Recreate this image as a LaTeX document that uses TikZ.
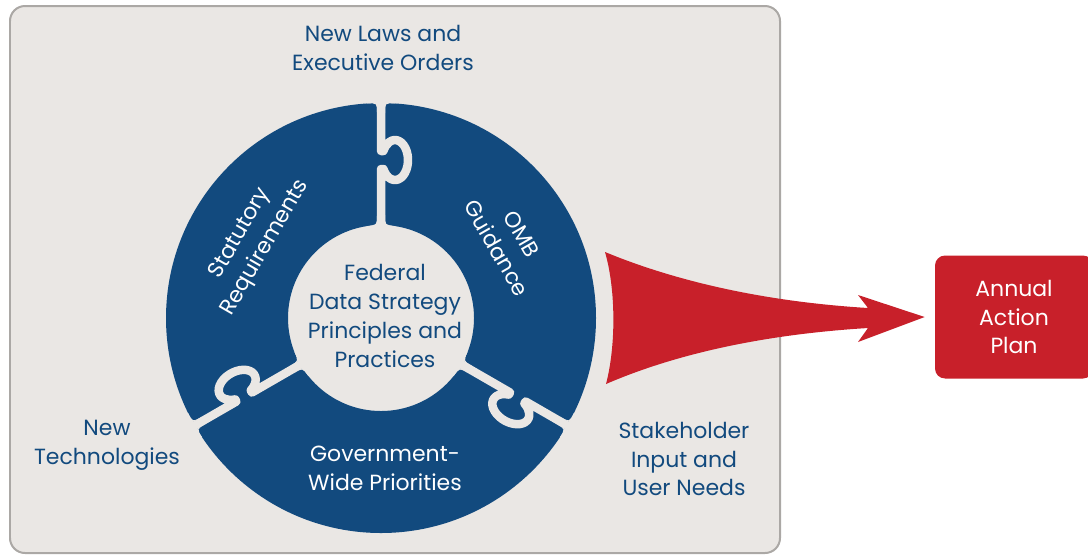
\documentclass[tikz,border=0pt]{standalone}
\usepackage{fontspec}
\setmainfont{Poppins}
\usetikzlibrary{positioning}
\definecolor{fdsblue}{RGB}{18,74,126}
\definecolor{fdsred}{RGB}{200,32,42}
\definecolor{panelgray}{RGB}{234,231,228}
\definecolor{panelline}{RGB}{171,168,165}

\begin{document}
\begin{tikzpicture}[x=0.02cm, y=-0.02cm]
        \tikzstyle{every node}=[align=center, inner sep=0pt, font=\fontsize{12.5}{16.4}\selectfont]
        \tikzstyle{outlbl}=[text=fdsblue]
        \tikzstyle{inlbl}=[text=white]
        \useasboundingbox (0,0) rectangle (1088,556);

        % grey panel
        \draw[panelline, fill=panelgray, line width=0.04cm, rounded corners=0.3cm]
                (10,6) rectangle (780,553);

        % puzzle ring, the gaps are cut with the panel colour
        \begin{scope}[shift={(381,318)}, y=0.02cm]
                \fill[fdsblue, even odd rule] (0,0) circle (215) (0,0) circle (93);
                \foreach \a in {0,120,240} {
                        \draw[panelgray, line width=0.17cm, line join=round, rotate=\a]
                                (0,80) -- (0,149) -- (2.4,149)
                                arc[start angle=-153.3, end angle=153.3, x radius=13, y radius=20]
                                -- (0,167) -- (0,230);
                        % round the corners of the pieces
                        \foreach \s in {-1,1} {
                                \fill[panelgray, rotate=\a] ({4*\s},205) .. controls ({4*\s},215) .. ({14*\s},214.5)
                                        -- ({14*\s},222) -- ({4*\s},222) -- cycle;
                                \fill[panelgray, rotate=\a] ({4*\s},103) .. controls ({4*\s},93) .. ({14*\s},91.9)
                                        -- ({14*\s},85) -- ({4*\s},85) -- cycle;
                        }
                }
        \end{scope}

        \node[outlbl] (fds) at (385,316) {Federal\\Data Strategy\\Principles and\\Practices};
        \node[inlbl, rotate=60] (stat) at (253,241) {Statutory\\Requirements};
        \node[inlbl, rotate=-60] (omb) at (509,241) {OMB\\Guidance};
        \node[inlbl] (gov) at (385,468) {Government-\\Wide Priorities};

        \node[outlbl] (laws) at (383,48) {New Laws and\\Executive Orders};
        \node[outlbl] (tech) at (107,445) {New\\Technologies};
        \node[outlbl] (stake) at (684,459) {Stakeholder\\Input and\\User Needs};

        % output box and the red arrow into it
        \node[fill=fdsred, text=white, rounded corners=0.2cm, minimum width=3.16cm,
                minimum height=2.46cm] (plan) at (1014,317) {Annual\\Action\\Plan};
        \coordinate (tip) at ([xshift=-0.2cm]plan.west);
        \fill[fdsred] (605,252) .. controls (616,290) and (616,346) .. (606,384)
                .. controls (680,352) and (770,334) .. (868,328) -- (858,342) -- (tip)
                -- (858,295) -- (868,308) .. controls (770,302) and (680,283) .. cycle;
\end{tikzpicture}
\end{document}
